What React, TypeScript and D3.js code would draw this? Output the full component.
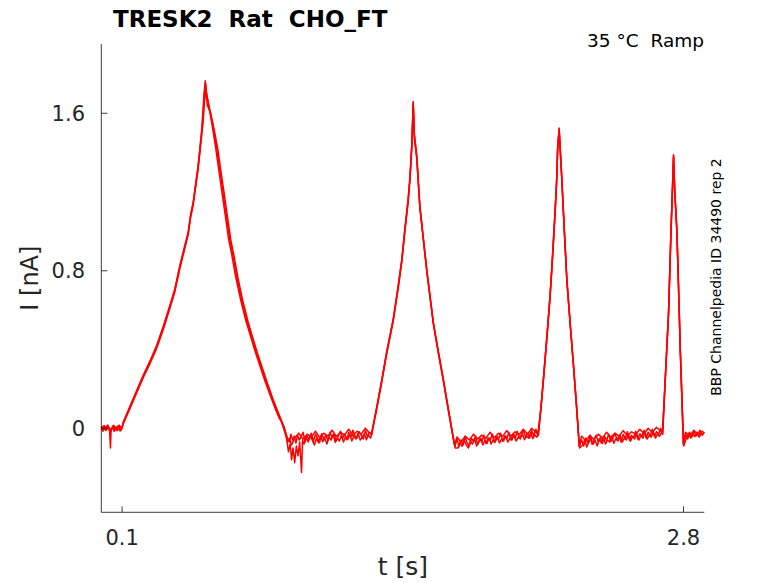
import React, { useRef, useEffect } from "react";
import * as d3 from "d3";

type Pt = [number, number];

const seg = (t0: number, step: number, vals: number[]): Pt[] =>
  vals.map((v, i) => [t0 + i * step, v] as Pt);

const X_TICKS = [0.1, 2.8];
const Y_TICKS = [0, 0.8, 1.6];

const TITLE = "TRESK2  Rat  CHO_FT";
const CONDITION = "35 °C  Ramp";
const SOURCE = "BBP Channelpedia ID 34490 rep 2";

// sweep A
const sweepA: Pt[] = [
  [0.0, 0.005], [0.008, -0.015], [0.016, 0.012], [0.024, -0.005], [0.032, 0.014], [0.04, -0.018],
  [0.044, -0.1], [0.047, -0.01], [0.054, 0.01], [0.062, -0.016], [0.07, 0.006], [0.078, -0.01],
  [0.086, 0.016], [0.094, -0.012], [0.1, 0.004],
  [0.105, 0.025], [0.153, 0.144], [0.201, 0.262], [0.234, 0.335], [0.266, 0.414], [0.298, 0.51],
  [0.33, 0.618], [0.354, 0.703], [0.378, 0.821], [0.398, 0.906], [0.418, 0.99], [0.429, 1.075],
  [0.442, 1.143], [0.455, 1.244], [0.466, 1.329], [0.474, 1.413], [0.482, 1.498], [0.49, 1.583],
  [0.495, 1.69], [0.501, 1.752],
  [0.506, 1.7], [0.522, 1.617], [0.538, 1.532], [0.554, 1.43], [0.57, 1.312], [0.586, 1.193],
  [0.602, 1.075], [0.618, 0.956], [0.634, 0.872], [0.651, 0.77], [0.675, 0.652], [0.699, 0.55],
  [0.723, 0.465], [0.747, 0.381], [0.771, 0.305], [0.795, 0.229], [0.819, 0.16], [0.843, 0.093],
  [0.862, 0.042], [0.883, -0.009],
  [0.895, -0.05], [0.905, -0.07], [0.912, -0.03], [0.92, -0.06], [0.928, -0.04], [0.936, -0.075],
  [0.944, -0.035], [0.952, -0.06], [0.96, -0.045],
  ...seg(0.97, 0.01, [
    -0.02, -0.07, -0.04, -0.058, -0.025, -0.066, -0.03, -0.05, -0.072, -0.028, -0.055, -0.035,
    -0.062, -0.02, -0.048, -0.03, -0.065, -0.038, -0.015, -0.052, -0.03, -0.058, -0.022, -0.045,
    -0.01, -0.04, -0.05, -0.018, -0.035, -0.055, -0.012, -0.042, -0.02, -0.035,
  ]),
  [1.324, 0.1], [1.348, 0.235], [1.372, 0.381], [1.404, 0.55], [1.428, 0.719], [1.445, 0.85],
  [1.46, 1.007], [1.476, 1.16], [1.485, 1.278], [1.493, 1.43], [1.497, 1.55], [1.5, 1.651],
  [1.506, 1.48], [1.517, 1.38], [1.532, 1.125], [1.565, 0.804], [1.597, 0.533], [1.621, 0.385],
  [1.645, 0.245], [1.669, 0.095], [1.693, -0.051], [1.701, -0.093],
  ...seg(1.71, 0.01, [
    -0.05, -0.095, -0.06, -0.085, -0.045, -0.075, -0.09, -0.05, -0.068, -0.04, -0.082, -0.055,
    -0.07, -0.035, -0.078, -0.05, -0.062, -0.03, -0.072, -0.045, -0.058, -0.025, -0.066, -0.04,
    -0.055, -0.02, -0.06, -0.03, -0.052, -0.015, -0.048, -0.035, -0.01, -0.045, -0.025, -0.05,
    -0.012, -0.038, -0.005, -0.03,
  ]),
  [2.114, 0.1], [2.126, 0.245], [2.142, 0.45], [2.158, 0.668], [2.17, 0.87], [2.182, 1.092],
  [2.19, 1.26], [2.195, 1.43], [2.202, 1.519], [2.208, 1.4], [2.215, 1.261], [2.227, 1.0],
  [2.239, 0.753], [2.255, 0.53], [2.27, 0.33], [2.285, 0.12], [2.299, -0.093],
  ...seg(2.31, 0.01, [
    -0.06, -0.09, -0.05, -0.075, -0.04, -0.08, -0.058, -0.035, -0.07, -0.048, -0.078, -0.04,
    -0.062, -0.03, -0.068, -0.05, -0.025, -0.058, -0.04, -0.07, -0.03, -0.052, -0.018, -0.06,
    -0.035, -0.048, -0.015, -0.055, -0.028, -0.042, -0.01, -0.05, -0.02, -0.038, -0.005, -0.042,
    -0.018, -0.03, 0.0, -0.028,
  ]),
  [2.712, 0.245], [2.728, 0.584], [2.74, 1.007], [2.747, 1.22], [2.752, 1.383], [2.758, 1.2],
  [2.768, 1.007], [2.776, 0.72], [2.784, 0.414], [2.792, 0.16], [2.8, -0.085],
  ...seg(2.81, 0.01, [-0.03, -0.055, -0.02, -0.045, -0.015, -0.04, -0.028, -0.01, -0.035, -0.02]),
];

// sweep B
const sweepB: Pt[] = [
  [0.0, -0.01], [0.012, 0.014], [0.022, -0.012], [0.034, 0.006], [0.046, -0.016], [0.058, 0.014],
  [0.068, -0.006], [0.08, 0.012], [0.09, -0.014], [0.1, 0.006],
  [0.105, 0.02], [0.153, 0.138], [0.201, 0.255], [0.234, 0.328], [0.266, 0.405], [0.298, 0.502],
  [0.33, 0.61], [0.354, 0.695], [0.378, 0.812], [0.398, 0.898], [0.418, 0.985], [0.429, 1.068],
  [0.442, 1.135], [0.455, 1.236], [0.466, 1.32], [0.474, 1.4], [0.482, 1.48], [0.49, 1.56],
  [0.496, 1.66], [0.503, 1.72],
  [0.51, 1.64], [0.526, 1.6], [0.543, 1.515], [0.56, 1.42], [0.576, 1.3], [0.592, 1.185],
  [0.608, 1.065], [0.624, 0.95], [0.64, 0.865], [0.657, 0.765], [0.681, 0.645], [0.705, 0.545],
  [0.729, 0.458], [0.753, 0.375], [0.777, 0.298], [0.801, 0.222], [0.825, 0.15], [0.849, 0.085],
  [0.868, 0.035], [0.878, 0.01], [0.89, -0.04],
  [0.9, -0.12], [0.908, -0.08], [0.915, -0.16], [0.922, -0.1], [0.93, -0.175], [0.938, -0.09],
  [0.946, -0.14], [0.954, -0.07], [0.963, -0.225], [0.968, -0.06],
  ...seg(0.975, 0.01, [
    -0.08, -0.045, -0.07, -0.035, -0.062, -0.085, -0.05, -0.075, -0.04, -0.068, -0.052, -0.08,
    -0.045, -0.06, -0.03, -0.072, -0.048, -0.065, -0.035, -0.07, -0.042, -0.058, -0.03, -0.065,
    -0.04, -0.055, -0.025, -0.06, -0.045, -0.028, -0.058, -0.035, -0.05,
  ]),
  [1.3, -0.03],
  [1.324, 0.095], [1.348, 0.23], [1.372, 0.375], [1.404, 0.545], [1.428, 0.712], [1.445, 0.845],
  [1.46, 1.0], [1.476, 1.152], [1.485, 1.27], [1.493, 1.42], [1.497, 1.54], [1.5, 1.64],
  [1.506, 1.47], [1.517, 1.372], [1.532, 1.12], [1.565, 0.8], [1.597, 0.53], [1.621, 0.38],
  [1.645, 0.24], [1.669, 0.09], [1.693, -0.055], [1.702, -0.1],
  ...seg(1.715, 0.01, [
    -0.1, -0.07, -0.092, -0.06, -0.085, -0.1, -0.065, -0.08, -0.055, -0.09, -0.07, -0.05,
    -0.085, -0.062, -0.078, -0.048, -0.08, -0.058, -0.07, -0.042, -0.075, -0.055, -0.065, -0.038,
    -0.07, -0.05, -0.06, -0.032, -0.065, -0.045, -0.055, -0.028, -0.058, -0.04, -0.05, -0.022,
    -0.052, -0.035, -0.045,
  ]),
  [2.102, -0.03], [2.114, 0.095], [2.126, 0.24], [2.142, 0.445], [2.158, 0.66], [2.17, 0.862],
  [2.182, 1.085], [2.19, 1.25], [2.195, 1.42], [2.202, 1.51], [2.208, 1.392], [2.215, 1.255],
  [2.227, 0.995], [2.239, 0.748], [2.255, 0.525], [2.27, 0.325], [2.285, 0.115], [2.3, -0.1],
  ...seg(2.315, 0.01, [
    -0.085, -0.06, -0.095, -0.07, -0.05, -0.082, -0.062, -0.09, -0.055, -0.075, -0.045, -0.08,
    -0.06, -0.07, -0.04, -0.076, -0.052, -0.065, -0.035, -0.07, -0.05, -0.06, -0.03, -0.066,
    -0.042, -0.055, -0.025, -0.06, -0.038, -0.05, -0.02, -0.055, -0.035, -0.045, -0.018, -0.05,
    -0.03, -0.04, -0.02,
  ]),
  [2.699, -0.03], [2.712, 0.24], [2.728, 0.578], [2.74, 1.0], [2.747, 1.212], [2.752, 1.375],
  [2.758, 1.192], [2.768, 1.0], [2.776, 0.712], [2.784, 0.408], [2.792, 0.155], [2.801, -0.09],
  ...seg(2.815, 0.01, [-0.045, -0.025, -0.05, -0.03, -0.042, -0.02, -0.045, -0.028, -0.035]),
];

// sweep C
const sweepC: Pt[] = [
  [0.0, 0.012], [0.015, -0.006], [0.03, 0.016], [0.045, -0.01], [0.06, 0.014], [0.075, -0.012],
  [0.09, 0.01], [0.1, 0.0],
  [0.105, 0.03], [0.153, 0.15], [0.201, 0.268], [0.234, 0.342], [0.266, 0.42], [0.298, 0.518],
  [0.33, 0.625], [0.354, 0.71], [0.378, 0.828], [0.398, 0.914], [0.418, 0.998], [0.429, 1.082],
  [0.442, 1.15], [0.455, 1.252], [0.466, 1.338], [0.474, 1.42], [0.482, 1.505], [0.488, 1.6],
  [0.494, 1.7], [0.5, 1.765],
  [0.505, 1.71], [0.516, 1.64], [0.532, 1.545], [0.548, 1.44], [0.564, 1.32], [0.58, 1.2],
  [0.596, 1.082], [0.612, 0.962], [0.628, 0.878], [0.645, 0.775], [0.669, 0.658], [0.693, 0.555],
  [0.717, 0.47], [0.741, 0.386], [0.765, 0.31], [0.789, 0.234], [0.813, 0.165], [0.837, 0.098],
  [0.856, 0.05], [0.866, 0.035], [0.885, -0.03],
  [0.896, -0.07], [0.905, -0.05], [0.915, -0.085],
  ...seg(0.93, 0.02, [
    -0.05, -0.025, -0.055, -0.03, -0.045, -0.015, -0.048, -0.025, -0.04, -0.01, -0.042, -0.02,
    -0.035, -0.005, -0.038, -0.015, -0.03, 0.0, -0.025,
  ]),
  [1.3, -0.025], [1.324, 0.105], [1.348, 0.24], [1.372, 0.387], [1.404, 0.555], [1.428, 0.726],
  [1.445, 0.856], [1.46, 1.014], [1.476, 1.168], [1.485, 1.286], [1.493, 1.44], [1.497, 1.56],
  [1.5, 1.66], [1.506, 1.49], [1.517, 1.388], [1.532, 1.13], [1.565, 0.808], [1.597, 0.536],
  [1.621, 0.39], [1.645, 0.25], [1.669, 0.1], [1.693, -0.048], [1.7, -0.09],
  ...seg(1.71, 0.02, [
    -0.045, -0.07, -0.04, -0.06, -0.03, -0.055, -0.035, -0.05, -0.02, -0.048, -0.025, -0.042,
    -0.012, -0.04, -0.018, -0.032, -0.005, -0.03, 0.0, -0.02,
  ]),
  [2.102, -0.036], [2.114, 0.105], [2.126, 0.25], [2.142, 0.455], [2.158, 0.672], [2.17, 0.876],
  [2.182, 1.098], [2.19, 1.268], [2.195, 1.436], [2.202, 1.525], [2.208, 1.406], [2.215, 1.266],
  [2.227, 1.005], [2.239, 0.758], [2.255, 0.535], [2.27, 0.335], [2.285, 0.125], [2.298, -0.088],
  ...seg(2.31, 0.02, [
    -0.04, -0.065, -0.035, -0.058, -0.03, -0.05, -0.02, -0.046, -0.025, -0.04, -0.012, -0.038,
    -0.018, -0.03, -0.005, -0.028, 0.0, -0.022, 0.005, -0.015,
  ]),
  [2.699, -0.02], [2.712, 0.25], [2.728, 0.59], [2.74, 1.012], [2.747, 1.228], [2.752, 1.39],
  [2.758, 1.208], [2.768, 1.012], [2.776, 0.726], [2.784, 0.42], [2.792, 0.168], [2.799, -0.08],
  ...seg(2.81, 0.02, [-0.02, -0.04, -0.01, -0.035, -0.015]),
  [2.9, -0.025],
];

const SWEEPS = [sweepA, sweepB, sweepC];

const W = 778;
const H = 583;
const FONT = "'DejaVu Sans', sans-serif";
const INK = "#262626";

const RampChart: React.FC = () => {
  const svgRef = useRef<SVGSVGElement | null>(null);

  useEffect(() => {
    const root = d3.select(svgRef.current);
    root.selectAll("*").remove();

    const x = d3.scaleLinear().domain([0, 2.9]).range([101.3, 704.3]);
    const y = d3.scaleLinear().domain([-0.427, 1.952]).range([512.3, 44]);

    const svg = root.append("g");

    // traces
    const line = d3
      .line<Pt>()
      .x((d) => x(d[0]))
      .y((d) => y(d[1]));

    svg
      .append("g")
      .selectAll("path")
      .data(SWEEPS)
      .enter()
      .append("path")
      .attr("d", (d) => line(d))
      .attr("fill", "none")
      .attr("stroke", "#ff0000")
      .attr("stroke-width", 1.5)
      .attr("stroke-linejoin", "round");

    // axes (left + bottom only, ticks inward)
    const [x0, x1] = x.range();
    const [y0, y1] = y.range();
    svg
      .append("path")
      .attr("d", `M${x0},${y1}V${y0}H${x1}`)
      .attr("fill", "none")
      .attr("stroke", INK)
      .attr("stroke-width", 0.9);

    svg
      .append("g")
      .selectAll("line")
      .data(X_TICKS)
      .enter()
      .append("line")
      .attr("x1", (d) => x(d))
      .attr("x2", (d) => x(d))
      .attr("y1", y0)
      .attr("y2", y0 - 6)
      .attr("stroke", INK)
      .attr("stroke-width", 0.9);

    svg
      .append("g")
      .selectAll("text")
      .data(X_TICKS)
      .enter()
      .append("text")
      .attr("x", (d) => x(d))
      .attr("y", 545)
      .attr("text-anchor", "middle")
      .style("font-family", FONT)
      .style("font-size", "21px")
      .attr("fill", INK)
      .text((d) => d.toFixed(1));

    svg
      .append("g")
      .selectAll("line")
      .data(Y_TICKS)
      .enter()
      .append("line")
      .attr("x1", x0)
      .attr("x2", x0 + 6)
      .attr("y1", (d) => y(d))
      .attr("y2", (d) => y(d))
      .attr("stroke", INK)
      .attr("stroke-width", 0.9);

    svg
      .append("g")
      .selectAll("text")
      .data(Y_TICKS)
      .enter()
      .append("text")
      .attr("x", 85)
      .attr("y", (d) => y(d) + 7.5)
      .attr("text-anchor", "end")
      .style("font-family", FONT)
      .style("font-size", "21px")
      .attr("fill", INK)
      .text((d) => (d === 0 ? "0" : d.toFixed(1)));

    // labels
    svg
      .append("text")
      .attr("x", (x0 + x1) / 2)
      .attr("y", 575)
      .attr("text-anchor", "middle")
      .style("font-family", FONT)
      .style("font-size", "25px")
      .attr("fill", INK)
      .text("t [s]");

    svg
      .append("text")
      .attr("transform", `translate(38,${(y0 + y1) / 2}) rotate(-90)`)
      .attr("text-anchor", "middle")
      .style("font-family", FONT)
      .style("font-size", "24px")
      .attr("fill", INK)
      .text("I [nA]");

    svg
      .append("text")
      .attr("x", 113)
      .attr("y", 27)
      .style("font-family", FONT)
      .style("font-size", "23px")
      .style("font-weight", "bold")
      .style("white-space", "pre")
      .attr("fill", "#000")
      .text(TITLE);

    svg
      .append("text")
      .attr("x", 704)
      .attr("y", 47)
      .attr("text-anchor", "end")
      .style("font-family", FONT)
      .style("font-size", "18.5px")
      .style("white-space", "pre")
      .attr("fill", "#000")
      .text(CONDITION);

    svg
      .append("text")
      .attr("transform", `translate(721,277) rotate(-90)`)
      .attr("text-anchor", "middle")
      .style("font-family", FONT)
      .style("font-size", "14px")
      .attr("fill", "#000")
      .text(SOURCE);
  }, []);

  return (
    <svg
      ref={svgRef}
      width={W}
      height={H}
      style={{ position: "absolute", left: 0, top: 0, background: "#fff" }}
    ></svg>
  );
};

export default function App() {
  return <RampChart />;
}
